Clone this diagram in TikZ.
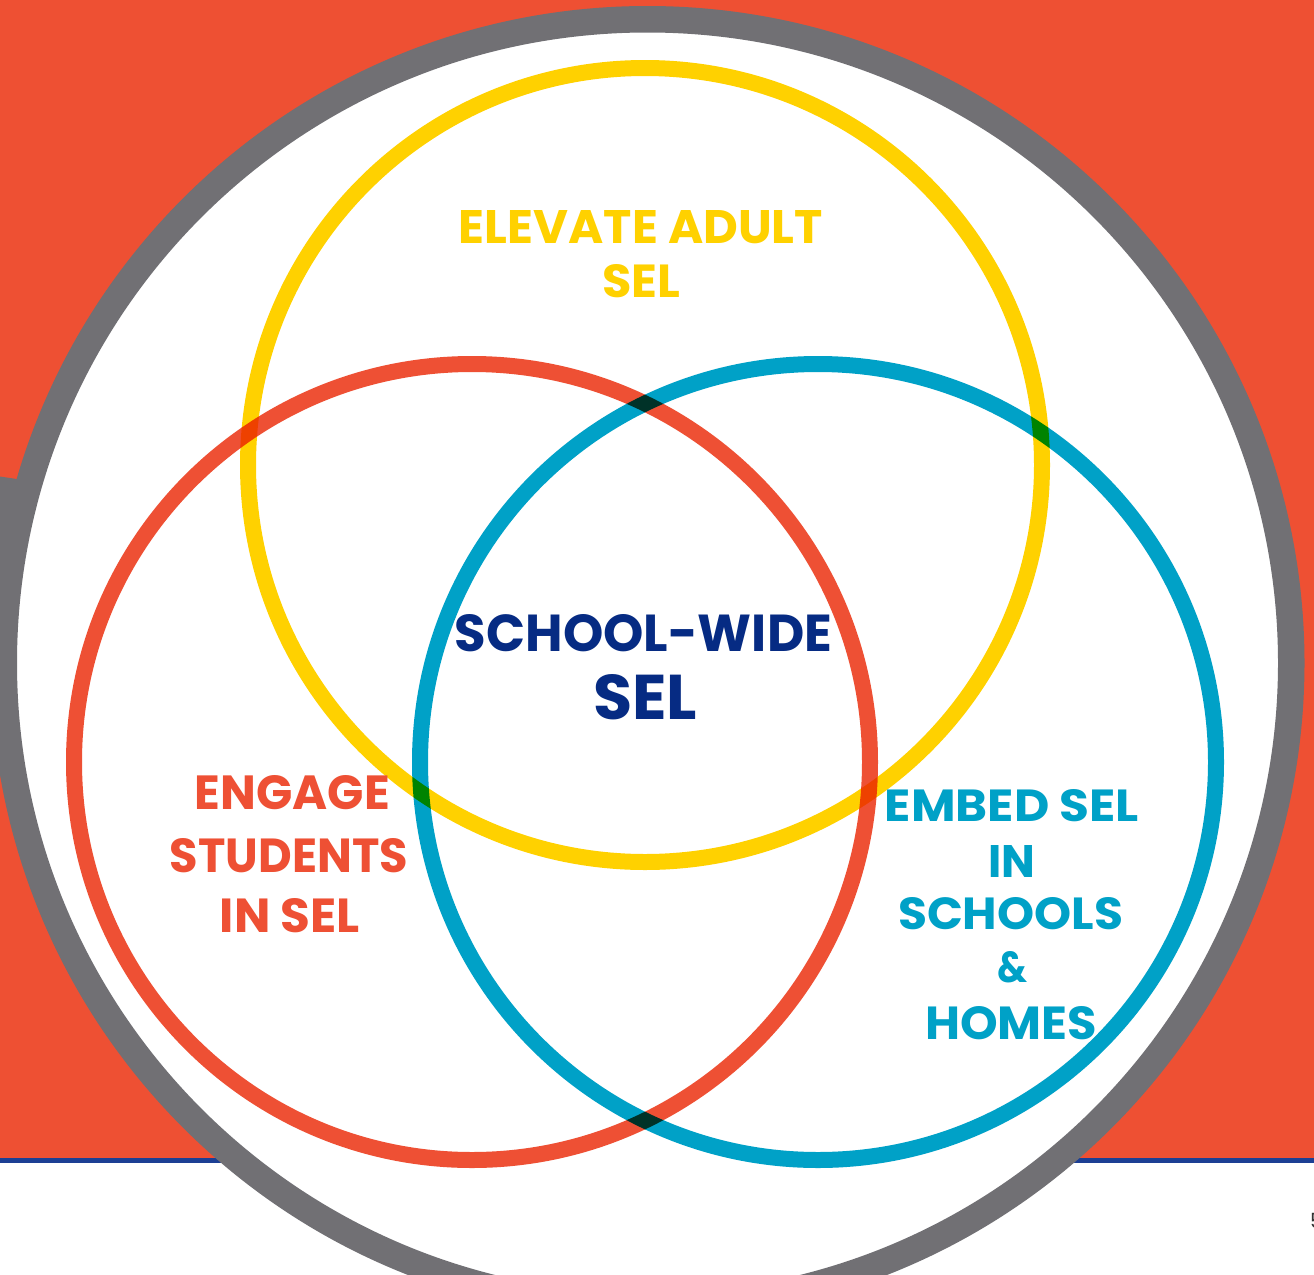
\documentclass[tikz,border=0pt]{standalone}
\usepackage{graphicx}
\usepackage{fontspec}
\newfontfamily\pop{Poppins}
\definecolor{bgorange}{HTML}{EE5033}
\definecolor{selred}{HTML}{EE5034}
\definecolor{selyellow}{HTML}{FFD100}
\definecolor{selblue}{HTML}{00A1C7}
\definecolor{selnavy}{HTML}{062B83}
\definecolor{ringgray}{HTML}{717074}
\definecolor{lineblue}{HTML}{1C3F94}
\definecolor{pagegray}{HTML}{333333}
\newcommand{\fitbox}[3]{\resizebox{#1pt}{#2pt}{\pop\bfseries #3}}
\begin{document}
\begin{tikzpicture}[x=1pt,y=-1pt,
  vring/.style={line width=16pt},
  lbl/.style={inner sep=0pt, outer sep=0pt, anchor=center}]
\useasboundingbox (0,0) rectangle (1314,1274);
\clip (0,0) rectangle (1314,1274);
\fill[white] (0,0) rectangle (1314,1274);
\fill[bgorange] (0,0) rectangle (1314,1158);
\fill[lineblue] (0,1158) rectangle (1314,1163);
\fill[ringgray] (0,476.5) -- (20,479.5) -- (20,700) -- (0,700) -- cycle;
\fill[white] (647.5,663) circle[radius=640pt];
\draw[ringgray, line width=26.5pt] (647.5,663) circle[radius=643.75pt];
\begin{scope}[blend group=multiply]
  \draw[vring, selyellow] (645,465) circle[radius=397pt];
  \draw[vring, selred] (472,762) circle[radius=398pt];
  \draw[vring, selblue] (818,762) circle[radius=398pt];
\end{scope}
% labels
\node[lbl, text=selyellow] (y1) at (641,227.5) {\fitbox{364}{33}{ELEVATE ADULT}};
\node[lbl, text=selyellow] (y2) at (641,281.5) {\fitbox{78}{33}{SEL}};
\node[lbl, text=selnavy] (c1) at (643.5,633.5) {\fitbox{377}{37}{SCHOOL-WIDE}};
\node[lbl, text=selnavy] (c2) at (645,697.5) {\fitbox{104}{45}{SEL}};
\node[lbl, text=selred] (r1) at (292.5,793) {\fitbox{195}{34}{ENGAGE}};
\node[lbl, text=selred] (r2) at (289,856) {\fitbox{238}{34}{STUDENTS}};
\node[lbl, text=selred] (r3) at (290,916) {\fitbox{140}{34}{IN SEL}};
\node[lbl, text=selblue] (b1) at (1012,806) {\fitbox{254}{32}{EMBED SEL}};
\node[lbl, text=selblue] (b2) at (1011.5,861) {\fitbox{47}{32}{IN}};
\node[lbl, text=selblue] (b3) at (1010.5,914) {\fitbox{225}{32}{SCHOOLS}};
\node[lbl, text=selblue] (b4) at (1012,967.5) {\fitbox{30}{31}{\&}};
\node[lbl, text=selblue] (b5) at (1011,1023.5) {\fitbox{172}{33}{HOMES}};
\node[anchor=west, inner sep=0pt, text=pagegray, font=\fontsize{21}{21}\selectfont\pop] (pg) at (1310,1221) {5};
\end{tikzpicture}
\end{document}
